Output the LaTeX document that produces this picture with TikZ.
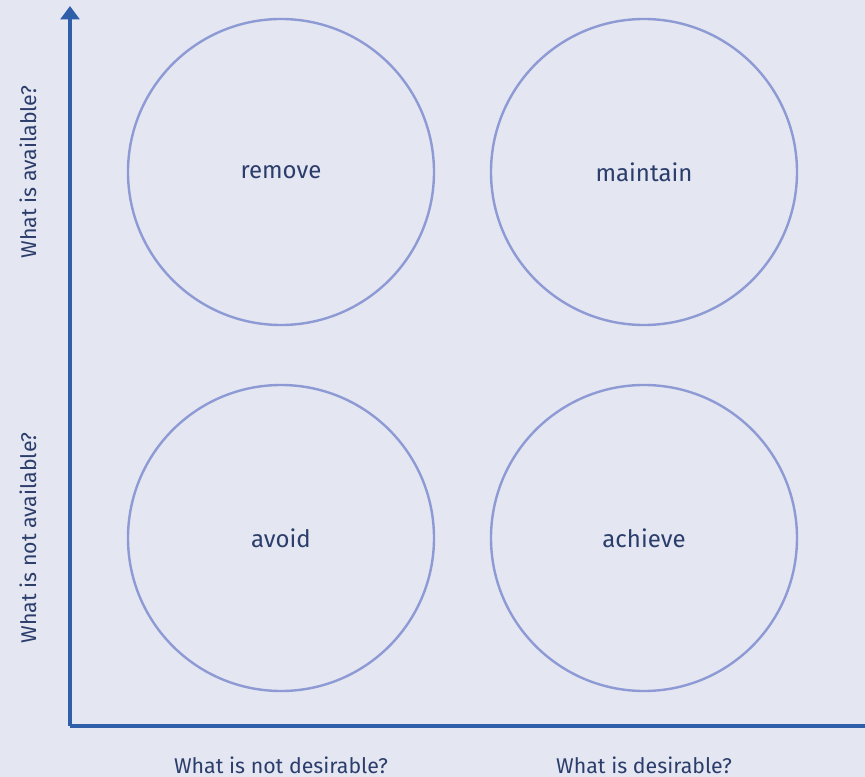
\documentclass[tikz,border=0pt]{standalone}
\usepackage{fontspec}
\setmainfont{Fira Sans}
\usetikzlibrary{arrows.meta}

\definecolor{bgcol}{HTML}{E4E6F2}
\definecolor{axiscol}{HTML}{2E5FA8}
\definecolor{ringcol}{HTML}{8E9AD4}
\definecolor{textcol}{HTML}{2B3D6B}

\begin{document}
\begin{tikzpicture}[x=0.75pt, y=-0.75pt,
	ring/.style={circle, draw=ringcol, line width=1.8pt, minimum size=229.5pt, inner sep=0pt, text=textcol, font=\fontsize{18}{21}\selectfont},
	axislabel/.style={text=textcol, font=\fontsize{16}{19}\selectfont}]
	\fill [bgcol] (0,0) rectangle (865,777);
	\useasboundingbox (0,0) rectangle (865,777);
	\coordinate (O) at (70,726);
	\coordinate (Y) at (70,6);
	\coordinate (X) at (865,726);

	\draw [axiscol, line width=2.6pt, -{Triangle[width=14pt, length=10pt]}] (O) -- (Y);
	\draw [axiscol, line width=2.6pt] (O) -- (X);

	\node [ring] (remove) at (281,172) {remove};
	\node [ring] (maintain) at (644,172) {maintain};
	\node [ring] (avoid) at (281,538) {avoid};
	\node [ring] (achieve) at (644,538) {achieve};

	\node [axislabel] (notdes) at (281,765) {What is not desirable?};
	\node [axislabel] (des) at (644,765) {What is desirable?};
	\node [axislabel, rotate=90] (avail) at (28,172) {What is available?};
	\node [axislabel, rotate=90] (notavail) at (28,538) {What is not available?};
\end{tikzpicture}
\end{document}
